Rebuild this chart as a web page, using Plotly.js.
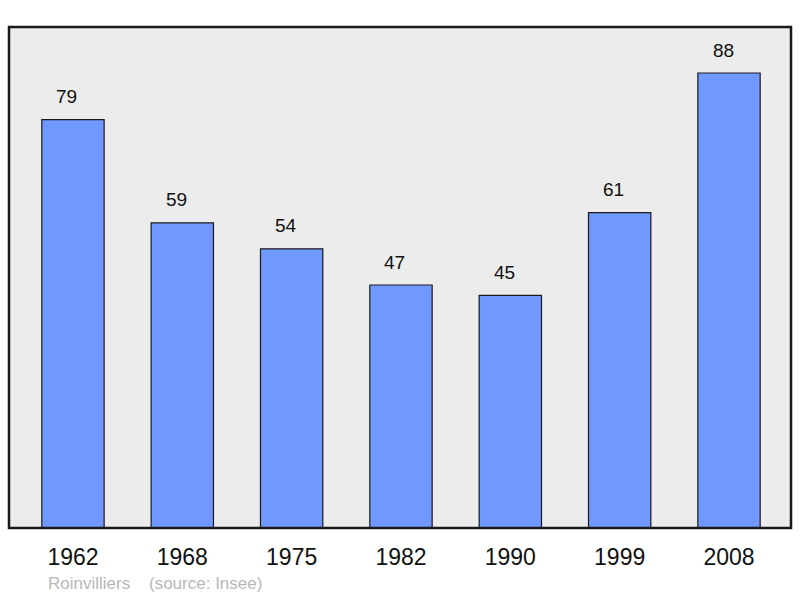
<!DOCTYPE html>
<html>
<head>
<meta charset="utf-8">
<script src="https://cdn.plot.ly/plotly-3.0.1.min.js"></script>
<style>html,body{margin:0;padding:0;background:#fff;}</style>
</head>
<body>
<div id="chart" style="width:800px;height:598px;"></div>
<script>
const years = ['1962','1968','1975','1982','1990','1999','2008'];
const population = [79, 59, 54, 47, 45, 61, 88];
const commune = 'Roinvilliers';
const source = '(source: Insee)';

const trace = {
  type: 'bar',
  x: years,
  y: population,
  width: 0.57,
  marker: {color: '#7099ff', line: {color: '#1a1a1a', width: 1.2}},
  hoverinfo: 'none'
};

const annotations = years.map((yr, i) => ({
  x: i, y: population[i], xref: 'x', yref: 'y',
  text: String(population[i]), showarrow: false,
  yanchor: 'middle', yshift: 23, xshift: -6,
  font: {family: 'Liberation Sans, Arial, sans-serif', size: 19, color: '#111'}
}));
annotations.push({
  xref: 'paper', yref: 'paper', x: 0.047, y: -0.11, xanchor: 'left', yanchor: 'middle',
  text: commune, showarrow: false,
  font: {family: 'Liberation Sans, Arial, sans-serif', size: 17, color: '#b8b8b8'}
});
annotations.push({
  xref: 'paper', yref: 'paper', x: 0.176, y: -0.11, xanchor: 'left', yanchor: 'middle',
  text: source, showarrow: false,
  font: {family: 'Liberation Sans, Arial, sans-serif', size: 17, color: '#b8b8b8'}
});

const layout = {
  width: 800, height: 598,
  margin: {l: 9, r: 9, t: 27, b: 70},
  paper_bgcolor: '#ffffff',
  plot_bgcolor: '#ececec',
  showlegend: false,
  xaxis: {
    type: 'category', range: [-0.585, 6.567],
    showgrid: false, zeroline: false, showline: false, ticks: '',
    ticklabelstandoff: 13,
    tickfont: {family: 'Liberation Sans, Arial, sans-serif', size: 23, color: '#111'}
  },
  yaxis: {
    range: [0, 96.9], visible: false, showgrid: false, zeroline: false
  },
  shapes: [{
    type: 'rect', xref: 'paper', yref: 'paper', x0: 0, x1: 1, y0: 0, y1: 1,
    line: {color: '#1a1a1a', width: 2.5}, fillcolor: 'rgba(0,0,0,0)', layer: 'above'
  }],
  annotations: annotations
};

Plotly.newPlot('chart', [trace], layout, {displayModeBar: false, staticPlot: true});
</script>
</body>
</html>
